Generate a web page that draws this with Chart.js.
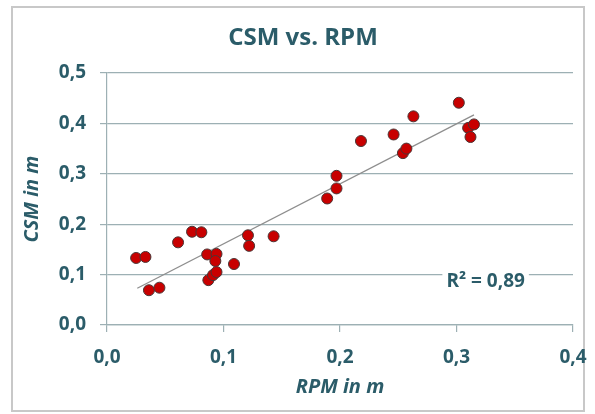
<!DOCTYPE html>
<html>
<head>
<meta charset="utf-8">
<script src="https://cdn.jsdelivr.net/npm/chart.js@4.4.0/dist/chart.umd.min.js"></script>
<style>
  body { margin: 0; background: #fff; }
  #frame { position: absolute; left: 11px; top: 6px; width: 570px; height: 402px; border: 2px solid #c8c8c8; }
  #wrap { position: absolute; left: 0; top: 0; width: 595px; height: 414px; }
</style>
</head>
<body>
<div id="frame"></div>
<div id="wrap"><canvas id="csmChart" width="595" height="414"></canvas></div>
<script>
// measured points, RPM (x) vs CSM (y), in m
var rpmValues = [0.025, 0.033, 0.036, 0.045, 0.061, 0.073, 0.081, 0.086, 0.094, 0.093,
                 0.087, 0.091, 0.094, 0.109, 0.121, 0.122, 0.143, 0.189, 0.197, 0.197,
                 0.218, 0.246, 0.254, 0.257, 0.263, 0.302, 0.310, 0.315, 0.312];
var csmValues = [0.133, 0.135, 0.069, 0.074, 0.164, 0.185, 0.184, 0.140, 0.141, 0.127,
                 0.089, 0.099, 0.105, 0.121, 0.178, 0.157, 0.176, 0.251, 0.271, 0.296,
                 0.365, 0.378, 0.341, 0.350, 0.414, 0.441, 0.391, 0.398, 0.373];

// linear trend line end points
var trendRpm = [0.026, 0.315];
var trendCsm = [0.073, 0.417];

var xTickLabels = ['0,0', '0,1', '0,2', '0,3', '0,4'];
var yTickLabels = ['0,0', '0,1', '0,2', '0,3', '0,4', '0,5'];
var chartTitle = 'CSM vs. RPM';
var xTitle = 'RPM in m';
var yTitle = 'CSM in m';
var rSquaredLabel = 'R² = 0,89';

var textColor = '#2b5c69';
var gridColor = '#9db0b4';
var fontName = '"Open Sans", sans-serif';

var scatterPoints = rpmValues.map(function (v, i) { return { x: v, y: csmValues[i] }; });
var trendPoints = trendRpm.map(function (v, i) { return { x: v, y: trendCsm[i] }; });

var labelPlugin = {
    id: 'labelPlugin',
    afterDraw: function (chart) {
        var c = chart.ctx;
        var xs = chart.scales.x, ys = chart.scales.y;
        c.save();
        c.fillStyle = textColor;
        c.textAlign = 'center';
        c.textBaseline = 'middle';
        c.font = 'bold 24px ' + fontName;
        c.fillText(chartTitle, 303, 38);

        // R² box over the gridline
        c.font = 'bold 19px ' + fontName;
        var w = c.measureText(rSquaredLabel).width;
        var cx = xs.getPixelForValue(0.325), cy = ys.getPixelForValue(0.087);
        c.fillStyle = '#fff';
        c.fillRect(cx - w / 2 - 4, cy - 13, w + 8, 26);
        c.fillStyle = textColor;
        c.fillText(rSquaredLabel, cx, cy);
        c.restore();
    }
};

var ctx = document.getElementById('csmChart').getContext('2d');

var csmChart = new Chart(ctx, {
    type: 'scatter',
    data: {
        datasets: [{
            label: 'CSM',
            data: scatterPoints,
            backgroundColor: '#c80000',
            borderColor: '#4a3535',
            borderWidth: 1,
            pointRadius: 5.5,
            order: 1
        }, {
            type: 'line',
            label: 'Trend',
            data: trendPoints,
            borderColor: '#8e8e8e',
            borderWidth: 1.3,
            pointRadius: 0,
            fill: false,
            order: 2
        }]
    },
    options: {
        responsive: false,
        animation: false,
        layout: { padding: { left: 14, top: 73, right: 22, bottom: 0 } },
        plugins: {
            legend: { display: false },
            tooltip: { enabled: false },
            title: { display: false }
        },
        scales: {
            x: {
                type: 'linear',
                min: 0,
                max: 0.4,
                afterFit: function (s) {
                    s.height = 89;
                    s.paddingLeft = 14;
                    s.paddingRight = 14;
                },
                ticks: {
                    stepSize: 0.1,
                    color: textColor,
                    padding: 14,
                    font: { family: fontName, size: 19, weight: 'bold' },
                    callback: function (v) { return xTickLabels[Math.round(v * 10)]; }
                },
                grid: { drawOnChartArea: false, drawTicks: true, tickLength: 7, color: gridColor, lineWidth: 1.2 },
                border: { display: true, color: gridColor, width: 1.2 },
                title: {
                    display: true,
                    text: xTitle,
                    color: textColor,
                    font: { family: fontName, size: 20, weight: 'bold', style: 'italic' },
                    padding: { top: 0, bottom: 15 }
                }
            },
            y: {
                min: 0,
                max: 0.5,
                afterFit: function (s) { s.width = 93; },
                ticks: {
                    stepSize: 0.1,
                    color: textColor,
                    padding: 14,
                    font: { family: fontName, size: 19, weight: 'bold' },
                    callback: function (v) { return yTickLabels[Math.round(v * 10)]; }
                },
                grid: { color: gridColor, lineWidth: 1.2, tickLength: 7 },
                border: { display: true, color: gridColor, width: 1.2 },
                title: {
                    display: true,
                    text: yTitle,
                    color: textColor,
                    font: { family: fontName, size: 20, weight: 'bold', style: 'italic' },
                    padding: { top: 6, bottom: 0 }
                }
            }
        }
    },
    plugins: [labelPlugin]
});
</script>
</body>
</html>
